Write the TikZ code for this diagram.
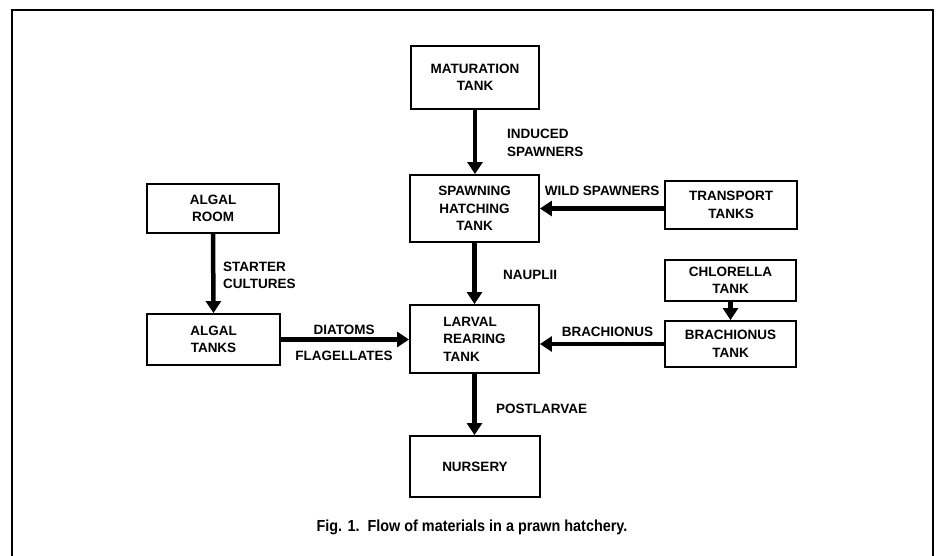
\documentclass[tikz,border=0pt]{standalone}
\usepackage{fontspec}
\setmainfont{Liberation Sans}
\newfontfamily\capfont[FakeStretch=0.9]{Liberation Sans}
\usetikzlibrary{arrows.meta}
\newcommand\labfont{\bfseries\fontsize{13.5}{17.5}\selectfont}
\begin{document}
\begin{tikzpicture}[x=1pt,y=-1pt,
  box/.style={draw, line width=1.9pt, align=center, inner sep=0pt, font=\labfont},
  arr/.style={line width=4.5pt, -{Triangle[length=12pt,width=15pt]}},
  lab/.style={font=\labfont, inner sep=0pt, align=left}]
\useasboundingbox (0,0) rectangle (942,556);
\fill[white] (0,0) rectangle (942,556);
% frame
\draw[line width=2.2pt] (12,556) -- (12,10) -- (933,10) -- (933,556);
% boxes
\node[box, minimum width=128pt, minimum height=63pt] (mat) at (475,77.5) {MATURATION\\TANK};
\node[box, minimum width=129pt, minimum height=67pt] (spawn) at (474.5,208.5) {SPAWNING\\HATCHING\\TANK};
\node[box, minimum width=132pt, minimum height=48pt] (trans) at (731,205) {TRANSPORT\\TANKS};
\node[box, minimum width=132pt, minimum height=49pt] (aroom) at (213,208.5) {ALGAL\\ROOM};
\node[box, minimum width=131pt, minimum height=41pt] (chlor) at (730.5,280.5) {CHLORELLA\\TANK};
\node[box, minimum width=133pt, minimum height=51pt] (atanks) at (213.5,339.5) {ALGAL\\TANKS};
\node[box, minimum width=129pt, minimum height=68pt, align=left] (larval) at (474.5,339) {LARVAL\\REARING\\TANK};
\node[box, minimum width=131pt, minimum height=46pt] (brach) at (730.5,344) {BRACHIONUS\\TANK};
\node[box, minimum width=130pt, minimum height=61pt] (nurs) at (475,466.5) {NURSERY};
% arrows
\draw[arr] (mat.south) -- (mat.south |- spawn.north);
\draw[arr] (trans.west |- spawn.east) -- (spawn.east);
\draw[arr] (aroom.south) -- (atanks.north);
\draw[arr] (spawn.south) -- (spawn.south |- larval.north);
\draw[arr] (chlor.south) -- (chlor.south |- brach.north);
\draw[arr] (atanks.east) -- (atanks.east -| larval.west);
\draw[arr] (brach.west) -- (brach.west -| larval.east);
\draw[arr] (larval.south) -- (larval.south |- nurs.north);
% labels
\node[lab, anchor=west] (lind) at (507,143) {INDUCED\\SPAWNERS};
\node[lab] (lwild) at (602,191) {WILD SPAWNERS};
\node[lab, anchor=west] (lstart) at (223,275.5) {STARTER\\CULTURES};
\node[lab, anchor=west] (lnaup) at (503,275) {NAUPLII};
\node[lab] (ldiat) at (344,330) {DIATOMS};
\node[lab] (lflag) at (344,356) {FLAGELLATES};
\node[lab] (lbrach) at (607.5,332) {BRACHIONUS};
\node[lab, anchor=west] (lpost) at (496,409) {POSTLARVAE};
\node[inner sep=0pt, font=\capfont\bfseries\fontsize{16}{18}\selectfont] (cap) at (472,527) {Fig. 1.\ \ Flow of materials in a prawn hatchery.};
\end{tikzpicture}
\end{document}
